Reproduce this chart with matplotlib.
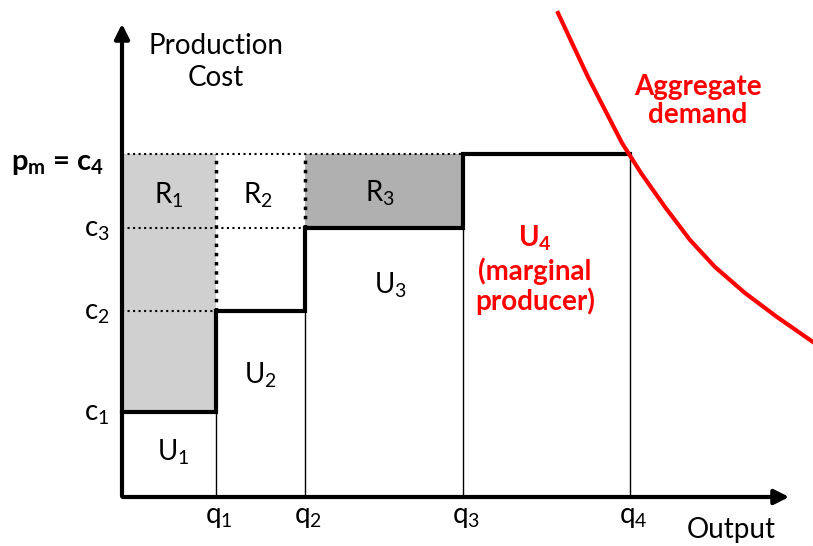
import numpy as np
import matplotlib.pyplot as plt

plt.rcParams['font.family'] = ['Lato', 'DejaVu Sans']
plt.rcParams['mathtext.fontset'] = 'custom'
plt.rcParams['mathtext.rm'] = 'Lato'
plt.rcParams['mathtext.it'] = 'Lato'
plt.rcParams['mathtext.bf'] = 'Lato:bold'

# quantities (cumulative output) and production cost levels
q = [94, 183, 341, 508]
c = [85, 186, 269, 343]
q_labels = ['q$_1$', 'q$_2$', 'q$_3$', 'q$_4$']
c_labels = ['c$_1$', 'c$_2$', 'c$_3$']

# aggregate demand curve
dem_x = [436, 450, 466, 483, 500, 519, 543, 568, 593, 623, 655, 691]
dem_y = [484, 454, 420, 387, 354, 324, 290, 257, 230, 204, 180, 155]

red = '#ff0000'

fig = plt.figure(figsize=(8.13, 5.46), dpi=100)
ax = fig.add_axes([0, 0, 1, 1])
ax.set_xlim(-122, 691)
ax.set_ylim(-49, 497)
ax.axis('off')

# rent areas
ax.fill_between([0, q[0]], c[0], c[3], color='#d0d0d0', lw=0, zorder=1)
ax.fill_between([q[1], q[2]], c[2], c[3], color='#b0b0b0', lw=0, zorder=1)

# dotted guides
ax.plot([0, q[2]], [c[3], c[3]], ':', color='k', lw=1.5, zorder=2)
ax.plot([0, q[1]], [c[2], c[2]], ':', color='k', lw=1.5, zorder=2)
ax.plot([0, q[0]], [c[1], c[1]], ':', color='k', lw=1.5, zorder=2)
ax.plot([q[0], q[0]], [c[1], c[3]], ':', color='k', lw=2.5, zorder=2)
ax.plot([q[1], q[1]], [c[2], c[3]], ':', color='k', lw=2.5, zorder=2)

# thin unit boundaries
for qi, ci in zip(q, c):
    ax.plot([qi, qi], [0, ci], color='k', lw=1, zorder=3)

# supply step
sx = [0, q[0], q[0], q[1], q[1], q[2], q[2], q[3]]
sy = [c[0], c[0], c[1], c[1], c[2], c[2], c[3], c[3]]
ax.plot(sx, sy, color='k', lw=3, solid_joinstyle='miter', zorder=4)

# demand
ax.plot(dem_x, dem_y, color=red, lw=3, zorder=5, solid_joinstyle='round')

# axes arrows
ax.annotate('', xy=(0, 476), xytext=(0, -2),
            arrowprops=dict(arrowstyle='-|>', lw=3, color='k', mutation_scale=22))
ax.annotate('', xy=(670, 0), xytext=(-2, 0),
            arrowprops=dict(arrowstyle='-|>', lw=3, color='k', mutation_scale=22))

fs = 20
ax.text(94, 435, 'Production\nCost', ha='center', va='center', fontsize=fs, linespacing=1.25)
ax.text(-64, 333, r'$\mathbf{p_m}$ = c$_\mathbf{4}$', ha='center', va='center',
        fontsize=21, fontweight='bold')
for ci, lab in zip(c, c_labels):
    ax.text(-25, ci - 2, lab, ha='center', va='center', fontsize=fs)

for qi, lab in zip(q, q_labels):
    ax.text(qi + 3, -20, lab, ha='center', va='center', fontsize=fs)
ax.text(609, -33, 'Output', ha='center', va='center', fontsize=fs)

ax.text(47, 302, 'R$_1$', ha='center', va='center', fontsize=fs)
ax.text(136, 302, 'R$_2$', ha='center', va='center', fontsize=fs)
ax.text(258, 304, 'R$_3$', ha='center', va='center', fontsize=fs)
ax.text(51, 45, 'U$_1$', ha='center', va='center', fontsize=fs)
ax.text(138, 122, 'U$_2$', ha='center', va='center', fontsize=fs)
ax.text(268, 212, 'U$_3$', ha='center', va='center', fontsize=fs)
ax.text(413, 259, r'$\mathbf{U_4}$', ha='center', va='center', fontsize=fs, color=red)
ax.text(413, 211, '(marginal\nproducer)', ha='center', va='center', fontsize=fs,
        color=red, fontweight='bold', linespacing=1.1)
ax.text(576, 396, 'Aggregate\ndemand', ha='center', va='center', fontsize=fs,
        color=red, fontweight='bold', linespacing=1.1)

plt.savefig('out.png', dpi=100)
